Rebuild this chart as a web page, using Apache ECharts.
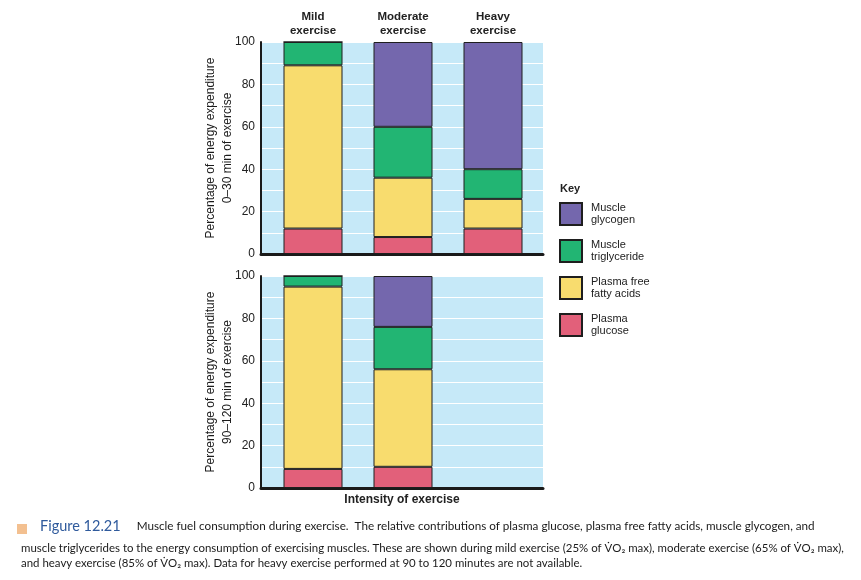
<!DOCTYPE html>
<html>
<head>
<meta charset="utf-8">
<script src="https://cdn.jsdelivr.net/npm/echarts@6/dist/echarts.min.js"></script>
<style>
html,body{margin:0;padding:0;background:#fff;}
#chart{width:861px;height:580px;}
</style>
</head>
<body>
<div id="chart"></div>
<script>
// ---- data ----
const categories = ['Mild\nexercise', 'Moderate\nexercise', 'Heavy\nexercise'];
const fuelNames = ['Plasma\nglucose', 'Plasma free\nfatty acids', 'Muscle\ntriglyceride', 'Muscle\nglycogen'];
const legendOrder = ['Muscle\nglycogen', 'Muscle\ntriglyceride', 'Plasma free\nfatty acids', 'Plasma\nglucose'];
// 0–30 min of exercise (percent)
const glucose0_30 = [12, 8, 12];
const ffa0_30 = [77, 28, 14];
const tg0_30 = [11, 24, 14];
const glycogen0_30 = [0, 40, 60];
// 90–120 min of exercise (percent); heavy not available
const glucose90_120 = [9, 10, null];
const ffa90_120 = [86, 46, null];
const tg90_120 = [5, 20, null];
const glycogen90_120 = [0, 24, null];
const yTitleTop = 'Percentage of energy expenditure\n0\u201330 min of exercise';
const yTitleBottom = 'Percentage of energy expenditure\n90\u2013120 min of exercise';
const xTitle = 'Intensity of exercise';
const captionFig = 'Figure 12.21';
const captionLine1 = 'Muscle fuel consumption during exercise.  The relative contributions of plasma glucose, plasma free fatty acids, muscle glycogen, and';
const captionLine2 = 'muscle triglycerides to the energy consumption of exercising muscles. These are shown during mild exercise (25% of V\u0307O\u2082 max), moderate exercise (65% of V\u0307O\u2082 max),';
const captionLine3 = 'and heavy exercise (85% of V\u0307O\u2082 max). Data for heavy exercise performed at 90 to 120 minutes are not available.';

// ---- styles ----
const colors = ['#e2607a', '#f8dc6e', '#22b573', '#7467ad'];
const bg = '#c6e9f8';
const font = 'Liberation Sans, Arial, sans-serif';
const capFont = 'Lato, sans-serif';

const chart = echarts.init(document.getElementById('chart'));

const panels = [
  {top: 42, data: [glucose0_30, ffa0_30, tg0_30, glycogen0_30], yTitle: yTitleTop, showCats: true, xName: ''},
  {top: 276, data: [glucose90_120, ffa90_120, tg90_120, glycogen90_120], yTitle: yTitleBottom, showCats: false, xName: xTitle}
];

const grid = [], xAxis = [], yAxis = [], series = [];
panels.forEach((p, pi) => {
  const gBg = grid.length;
  grid.push({left: 261, top: p.top, width: 282, height: 212, show: true, backgroundColor: bg, borderWidth: 0});
  const gBar = grid.length;
  grid.push({left: 268, top: p.top, width: 270, height: 212});
  xAxis.push({
    gridIndex: gBg, type: 'value', min: 0, max: 1,
    axisLine: {show: true, onZero: false, lineStyle: {color: '#1a1a1a', width: 3}},
    axisTick: {show: false}, axisLabel: {show: false}, splitLine: {show: false},
    name: p.xName, nameLocation: 'middle', nameGap: 6,
    nameTextStyle: {fontFamily: font, fontSize: 12, fontWeight: 'bold', color: '#222', verticalAlign: 'top'}
  });
  xAxis.push({
    gridIndex: gBar, type: 'category', data: categories, position: 'top',
    axisLine: {show: false}, axisTick: {show: false},
    axisLabel: {show: p.showCats, fontFamily: font, fontSize: 11.5, fontWeight: 'bold', color: '#222', lineHeight: 14, margin: 4}
  });
  yAxis.push({
    gridIndex: gBg, type: 'value', min: 0, max: 100, interval: 20,
    axisLine: {show: true, lineStyle: {color: '#1a1a1a', width: 2}},
    axisTick: {show: false},
    axisLabel: {fontFamily: font, fontSize: 12, color: '#222', margin: 6},
    splitLine: {show: true, lineStyle: {color: '#ffffff', width: 1}},
    minorTick: {show: false, splitNumber: 2},
    minorSplitLine: {show: true, lineStyle: {color: '#ffffff', width: 1}},
    name: p.yTitle, nameLocation: 'middle', nameGap: 25, nameRotate: 90, nameMoveOverlap: false,
    nameTextStyle: {fontFamily: font, fontSize: 12, color: '#1a1a1a', lineHeight: 17, verticalAlign: 'bottom', align: 'center'}
  });
  yAxis.push({
    gridIndex: gBar, type: 'value', min: 0, max: 100, show: false
  });
  p.data.forEach((arr, si) => {
    series.push({
      type: 'bar', name: fuelNames[si], stack: 'panel' + pi,
      xAxisIndex: gBar, yAxisIndex: gBar,
      data: arr, barWidth: 59,
      itemStyle: {color: colors[si], borderColor: '#1e1e1e', borderWidth: 1},
      emphasis: {disabled: true}, animation: false
    });
  });
});

const capStyle = {fontFamily: capFont, fontSize: 11.45, fontWeight: 'normal', color: '#1a1a1a'};

chart.setOption({
  animation: false,
  grid, xAxis, yAxis, series,
  legend: {
    orient: 'vertical', left: 554, top: 197,
    data: legendOrder, icon: 'rect', itemWidth: 22, itemHeight: 22, itemGap: 13,
    selectedMode: false,
    textStyle: {fontFamily: font, fontSize: 11, color: '#222', lineHeight: 12, padding: [0, 0, 0, 4]}
  },
  title: [
    {text: 'Key', left: 555, top: 178, textStyle: {fontFamily: font, fontSize: 11, fontWeight: 'bold', color: '#222'}},
    {
      left: 12, top: 514,
      text: '{sq|}{fig|' + captionFig + '}{t|' + captionLine1 + '}',
      textStyle: {
        fontWeight: 'normal',
        rich: {
          sq: {width: 10, height: 10, backgroundColor: '#f3c090', verticalAlign: 'bottom'},
          fig: {fontFamily: capFont, fontSize: 14.5, fontWeight: 'normal', color: '#2f5a9c', padding: [0, 16, 0, 13]},
          t: {fontFamily: capFont, fontSize: 11.7, fontWeight: 'normal', color: '#1a1a1a'}
        }
      }
    },
    {left: 16, top: 538, text: captionLine2, textStyle: capStyle},
    {left: 16, top: 553, text: captionLine3, textStyle: capStyle}
  ]
});
</script>
</body>
</html>
